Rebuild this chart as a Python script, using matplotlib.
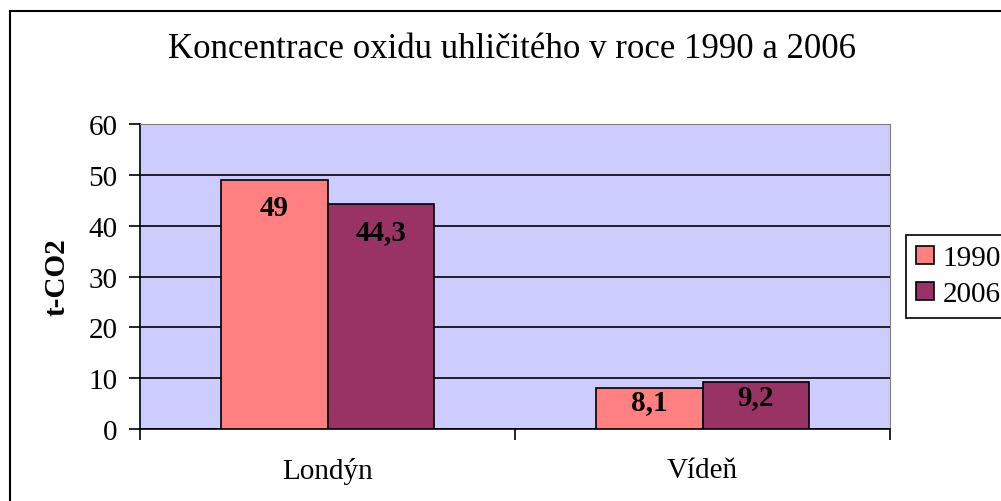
import numpy as np
import matplotlib.pyplot as plt
from matplotlib.patches import Rectangle

# data
cities = ["Londýn", "Vídeň"]
years = ["1990", "2006"]
vals_1990 = [49, 8.1]
vals_2006 = [44.3, 9.2]
labels_1990 = ["49", "8,1"]
labels_2006 = ["44,3", "9,2"]
colors = ["#FF8080", "#993366"]

plt.rcParams["font.family"] = ["Liberation Serif", "DejaVu Serif"]

W, H = 1001, 502
fig = plt.figure(figsize=(W / 100, H / 100), dpi=100)
ax = fig.add_axes([140 / W, 1 - 430 / H, (890 - 140) / W, (430 - 125) / H])
ax.set_facecolor("#CCCCFF")

x = np.arange(len(cities))
bw = 0.285
b1 = ax.bar(x - bw / 2, vals_1990, bw, color=colors[0], edgecolor="black", linewidth=1.2, label=years[0], zorder=3)
b2 = ax.bar(x + bw / 2, vals_2006, bw, color=colors[1], edgecolor="black", linewidth=1.2, label=years[1], zorder=3)

for bars, labs in [(b1, labels_1990), (b2, labels_2006)]:
    for rect, lab in zip(bars, labs):
        off = -20 if rect.get_height() > 20 else -10
        ax.annotate(lab, (rect.get_x() + rect.get_width() / 2, rect.get_height()),
                    xytext=(0, off), textcoords="offset points", ha="center", va="center",
                    fontsize=21, fontweight="bold", zorder=5)

ax.set_xlim(-0.5, 1.5)
ax.set_ylim(0, 60)
ax.set_yticks(range(0, 61, 10))
ax.yaxis.grid(True, color="black", linewidth=1.2, zorder=1)
ax.set_axisbelow(True)

ax.set_xticks([-0.5, 0.5, 1.5])
ax.set_xticklabels([])
ax.set_xticks(x, minor=True)
ax.set_xticklabels(cities, minor=True, fontsize=21)
ax.tick_params(axis="x", which="minor", length=0, pad=20)
ax.tick_params(axis="x", which="major", length=8, width=1.2, direction="out")
ax.tick_params(axis="y", length=8, width=1.2, labelsize=21, pad=8)

ax.spines["top"].set_color("#808080")
ax.spines["right"].set_color("#808080")
ax.spines["left"].set_linewidth(1.2)
ax.spines["bottom"].set_linewidth(1.2)

ax.set_ylabel("t-CO2", fontsize=21, fontweight="bold", labelpad=13)

fig.text(512 / W, 1 - 50 / H, "Koncentrace oxidu uhličitého v roce 1990 a 2006",
         ha="center", va="center", fontsize=25)

leg = fig.legend(loc="upper left", bbox_to_anchor=(906 / W, 1 - 236 / H), fontsize=21,
                 frameon=True, fancybox=False, edgecolor="black", framealpha=1,
                 handlelength=0.6, handleheight=0.6, handletextpad=0.3,
                 borderpad=0.35, labelspacing=0.35, borderaxespad=0)
leg.get_frame().set_linewidth(1.2)

# chart border
fig.patches.append(Rectangle((10 / W, -0.1), 1.2, 1.1 - 12 / H, transform=fig.transFigure,
                             fill=False, edgecolor="black", linewidth=1.5, clip_on=False))

fig.savefig("out.png", dpi=100)
